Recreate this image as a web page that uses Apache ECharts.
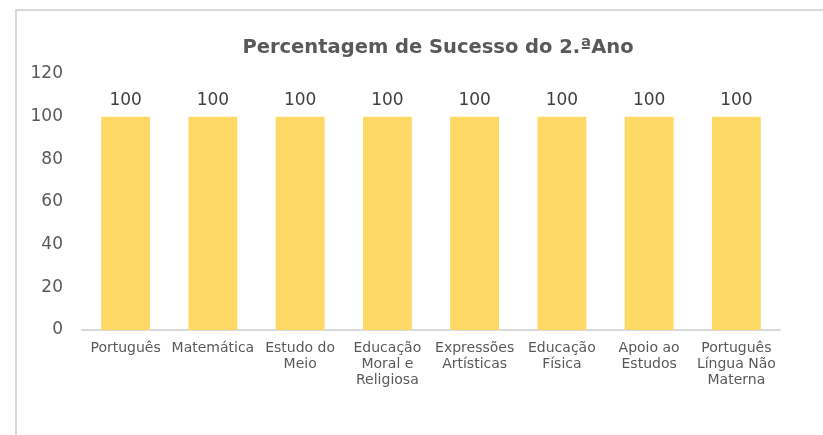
<!DOCTYPE html>
<html>
<head>
<meta charset="utf-8">
<script src="https://cdn.jsdelivr.net/npm/echarts@6/dist/echarts.min.js"></script>
<style>
  html, body { margin: 0; padding: 0; background: #fff; }
  #frame { position: absolute; left: 15px; top: 9px; width: 820px; height: 440px;
           border-left: 2px solid #d9d9d9; border-top: 2px solid #d9d9d9; }
  #chart { position: absolute; left: 0; top: 0; width: 823px; height: 435px; }
</style>
</head>
<body>
<div id="frame"></div>
<div id="chart"></div>
<script>
var titleText = 'Percentagem de Sucesso do 2.ªAno';
var categories = ['Português', 'Matemática', 'Estudo do\nMeio', 'Educação\nMoral e\nReligiosa',
    'Expressões\nArtísticas', 'Educação\nFísica', 'Apoio ao\nEstudos', 'Português\nLíngua Não\nMaterna'];
var values = [100, 100, 100, 100, 100, 100, 100, 100];
var yMin = 0, yMax = 120, yStep = 20;

var chart = echarts.init(document.getElementById('chart'));
var option = {
    backgroundColor: 'transparent',
    textStyle: { fontFamily: 'DejaVu Sans, sans-serif' },
    title: {
        text: titleText,
        left: 433,
        textAlign: 'center',
        top: 33,
        textStyle: { fontSize: 19.5, fontWeight: 'bold', color: '#595959', fontFamily: 'DejaVu Sans' }
    },
    grid: { left: 82, right: 43, top: 74, bottom: 105, containLabel: false },
    xAxis: {
        type: 'category',
        data: categories,
        axisLine: { lineStyle: { color: '#d9d9d9', width: 2 } },
        axisTick: { show: false },
        axisLabel: { interval: 0, color: '#595959', fontSize: 14, lineHeight: 16, margin: 10 }
    },
    yAxis: {
        type: 'value',
        min: yMin, max: yMax, interval: yStep,
        axisLine: { show: false },
        axisTick: { show: false },
        splitLine: { show: false },
        axisLabel: { color: '#595959', fontSize: 17, margin: 19 }
    },
    series: [{
        type: 'bar',
        data: values,
        barWidth: '56%',
        itemStyle: { color: '#FFD966' },
        label: { show: true, position: 'top', distance: 8, color: '#404040', fontSize: 17 }
    }]
};
chart.setOption(option);
</script>
</body>
</html>
